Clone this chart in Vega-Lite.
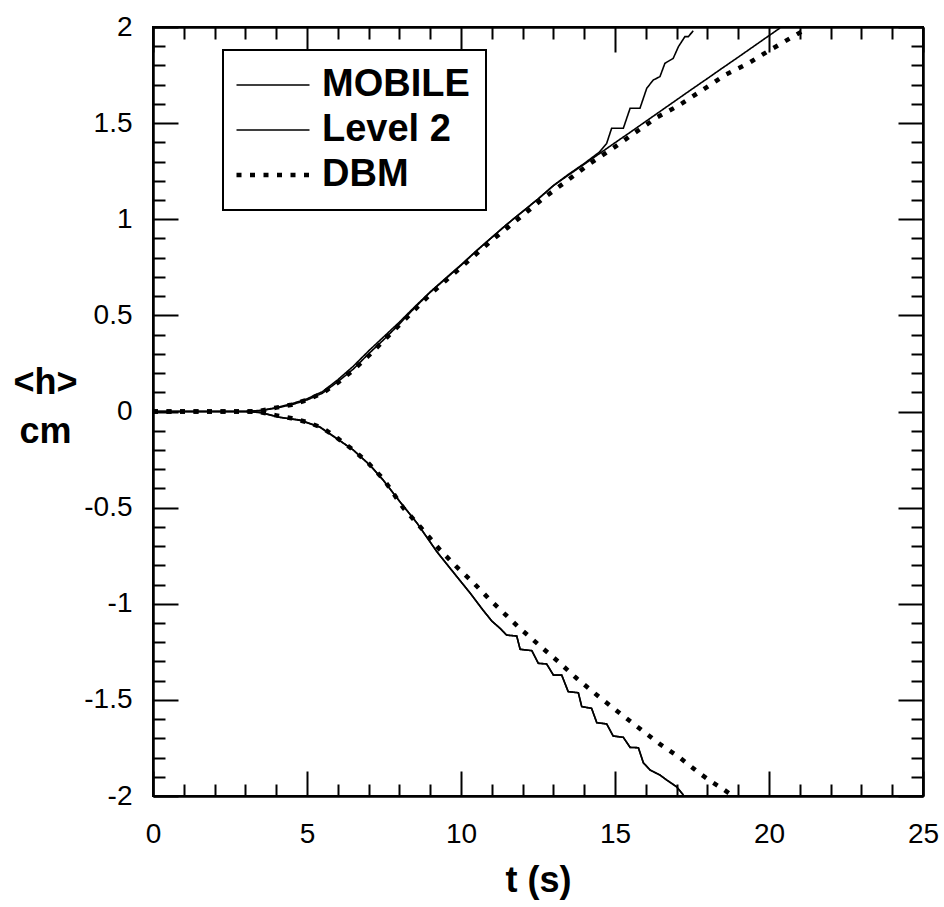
{
  "$schema": "https://vega.github.io/schema/vega-lite/v6.json",
  "autosize": {"type": "none"},
  "padding": {"left": 153, "top": 27, "right": 21, "bottom": 111},
  "width": 770,
  "height": 769,
  "background": "white",
  "config": {
    "view": {"stroke": "black", "strokeWidth": 2},
    "font": "Liberation Sans",
    "axis": {
      "grid": false,
      "domainColor": "black",
      "domainWidth": 2,
      "tickColor": "black",
      "tickWidth": 2,
      "tickSize": -25,
      "labelColor": "black",
      "labelFont": "Liberation Sans",
      "labelFontSize": 28,
      "labelOverlap": false,
      "labelFlush": false,
      "titleColor": "black",
      "titleFont": "Liberation Sans",
      "titleFontWeight": "bold",
      "titleFontSize": 36
    },
    "legend": {
      "strokeColor": "black",
      "strokeWidth": 2,
      "fillColor": "white"
    }
  },
  "data": {
    "values": [
      {"series": "MOBILE", "branch": "up", "t": 0, "h": 0},
      {"series": "MOBILE", "branch": "up", "t": 1, "h": 0},
      {"series": "MOBILE", "branch": "up", "t": 2, "h": 0},
      {"series": "MOBILE", "branch": "up", "t": 3, "h": 0},
      {"series": "MOBILE", "branch": "up", "t": 3.5, "h": 0.004},
      {"series": "MOBILE", "branch": "up", "t": 4, "h": 0.018},
      {"series": "MOBILE", "branch": "up", "t": 4.5, "h": 0.035},
      {"series": "MOBILE", "branch": "up", "t": 5, "h": 0.06},
      {"series": "MOBILE", "branch": "up", "t": 5.5, "h": 0.095},
      {"series": "MOBILE", "branch": "up", "t": 6, "h": 0.155},
      {"series": "MOBILE", "branch": "up", "t": 6.5, "h": 0.22},
      {"series": "MOBILE", "branch": "up", "t": 7, "h": 0.3},
      {"series": "MOBILE", "branch": "up", "t": 7.5, "h": 0.375},
      {"series": "MOBILE", "branch": "up", "t": 8, "h": 0.455},
      {"series": "MOBILE", "branch": "up", "t": 8.5, "h": 0.54},
      {"series": "MOBILE", "branch": "up", "t": 9, "h": 0.62},
      {"series": "MOBILE", "branch": "up", "t": 9.5, "h": 0.69},
      {"series": "MOBILE", "branch": "up", "t": 10, "h": 0.76},
      {"series": "MOBILE", "branch": "up", "t": 10.5, "h": 0.835},
      {"series": "MOBILE", "branch": "up", "t": 11, "h": 0.905},
      {"series": "MOBILE", "branch": "up", "t": 11.5, "h": 0.975},
      {"series": "MOBILE", "branch": "up", "t": 12, "h": 1.04},
      {"series": "MOBILE", "branch": "up", "t": 12.5, "h": 1.105},
      {"series": "MOBILE", "branch": "up", "t": 13, "h": 1.175},
      {"series": "MOBILE", "branch": "up", "t": 13.5, "h": 1.235},
      {"series": "MOBILE", "branch": "up", "t": 14, "h": 1.29},
      {"series": "MOBILE", "branch": "up", "t": 14.5, "h": 1.35},
      {"series": "MOBILE", "branch": "up", "t": 14.73, "h": 1.395},
      {"series": "MOBILE", "branch": "up", "t": 14.89, "h": 1.473},
      {"series": "MOBILE", "branch": "up", "t": 15.27, "h": 1.473},
      {"series": "MOBILE", "branch": "up", "t": 15.49, "h": 1.577},
      {"series": "MOBILE", "branch": "up", "t": 15.81, "h": 1.577},
      {"series": "MOBILE", "branch": "up", "t": 16.03, "h": 1.681},
      {"series": "MOBILE", "branch": "up", "t": 16.24, "h": 1.724},
      {"series": "MOBILE", "branch": "up", "t": 16.46, "h": 1.742},
      {"series": "MOBILE", "branch": "up", "t": 16.62, "h": 1.811},
      {"series": "MOBILE", "branch": "up", "t": 16.89, "h": 1.837},
      {"series": "MOBILE", "branch": "up", "t": 17.06, "h": 1.898},
      {"series": "MOBILE", "branch": "up", "t": 17.27, "h": 1.95},
      {"series": "MOBILE", "branch": "up", "t": 17.38, "h": 1.95},
      {"series": "MOBILE", "branch": "up", "t": 17.54, "h": 1.98},

      {"series": "Level 2", "branch": "up", "t": 0, "h": 0},
      {"series": "Level 2", "branch": "up", "t": 1, "h": 0},
      {"series": "Level 2", "branch": "up", "t": 2, "h": 0},
      {"series": "Level 2", "branch": "up", "t": 3, "h": 0},
      {"series": "Level 2", "branch": "up", "t": 3.5, "h": 0.006},
      {"series": "Level 2", "branch": "up", "t": 4, "h": 0.02},
      {"series": "Level 2", "branch": "up", "t": 4.5, "h": 0.04},
      {"series": "Level 2", "branch": "up", "t": 5, "h": 0.066},
      {"series": "Level 2", "branch": "up", "t": 5.5, "h": 0.103},
      {"series": "Level 2", "branch": "up", "t": 6, "h": 0.165},
      {"series": "Level 2", "branch": "up", "t": 6.5, "h": 0.235},
      {"series": "Level 2", "branch": "up", "t": 7, "h": 0.315},
      {"series": "Level 2", "branch": "up", "t": 7.5, "h": 0.39},
      {"series": "Level 2", "branch": "up", "t": 8, "h": 0.465},
      {"series": "Level 2", "branch": "up", "t": 8.5, "h": 0.545},
      {"series": "Level 2", "branch": "up", "t": 9, "h": 0.622},
      {"series": "Level 2", "branch": "up", "t": 9.5, "h": 0.693},
      {"series": "Level 2", "branch": "up", "t": 10, "h": 0.763},
      {"series": "Level 2", "branch": "up", "t": 10.5, "h": 0.836},
      {"series": "Level 2", "branch": "up", "t": 11, "h": 0.906},
      {"series": "Level 2", "branch": "up", "t": 11.5, "h": 0.975},
      {"series": "Level 2", "branch": "up", "t": 12, "h": 1.04},
      {"series": "Level 2", "branch": "up", "t": 12.5, "h": 1.105},
      {"series": "Level 2", "branch": "up", "t": 13, "h": 1.175},
      {"series": "Level 2", "branch": "up", "t": 13.5, "h": 1.231},
      {"series": "Level 2", "branch": "up", "t": 14, "h": 1.286},
      {"series": "Level 2", "branch": "up", "t": 14.5, "h": 1.342},
      {"series": "Level 2", "branch": "up", "t": 15, "h": 1.398},
      {"series": "Level 2", "branch": "up", "t": 15.5, "h": 1.453},
      {"series": "Level 2", "branch": "up", "t": 16, "h": 1.509},
      {"series": "Level 2", "branch": "up", "t": 16.5, "h": 1.565},
      {"series": "Level 2", "branch": "up", "t": 17, "h": 1.621},
      {"series": "Level 2", "branch": "up", "t": 17.5, "h": 1.677},
      {"series": "Level 2", "branch": "up", "t": 18, "h": 1.732},
      {"series": "Level 2", "branch": "up", "t": 18.5, "h": 1.788},
      {"series": "Level 2", "branch": "up", "t": 19, "h": 1.843},
      {"series": "Level 2", "branch": "up", "t": 19.5, "h": 1.899},
      {"series": "Level 2", "branch": "up", "t": 20, "h": 1.955},
      {"series": "Level 2", "branch": "up", "t": 20.36, "h": 1.995},

      {"series": "MOBILE", "branch": "low", "t": 0, "h": 0},
      {"series": "MOBILE", "branch": "low", "t": 1, "h": 0},
      {"series": "MOBILE", "branch": "low", "t": 2, "h": 0},
      {"series": "MOBILE", "branch": "low", "t": 3, "h": 0},
      {"series": "MOBILE", "branch": "low", "t": 3.5, "h": -0.005},
      {"series": "MOBILE", "branch": "low", "t": 4.1, "h": -0.03},
      {"series": "MOBILE", "branch": "low", "t": 4.77, "h": -0.044},
      {"series": "MOBILE", "branch": "low", "t": 5.42, "h": -0.08},
      {"series": "MOBILE", "branch": "low", "t": 5.97, "h": -0.14},
      {"series": "MOBILE", "branch": "low", "t": 6.5, "h": -0.2},
      {"series": "MOBILE", "branch": "low", "t": 7.05, "h": -0.28},
      {"series": "MOBILE", "branch": "low", "t": 7.47, "h": -0.356},
      {"series": "MOBILE", "branch": "low", "t": 8.02, "h": -0.47},
      {"series": "MOBILE", "branch": "low", "t": 8.57, "h": -0.58},
      {"series": "MOBILE", "branch": "low", "t": 9.22, "h": -0.73},
      {"series": "MOBILE", "branch": "low", "t": 9.87, "h": -0.86},
      {"series": "MOBILE", "branch": "low", "t": 10.3, "h": -0.945},
      {"series": "MOBILE", "branch": "low", "t": 10.7, "h": -1.03},
      {"series": "MOBILE", "branch": "low", "t": 11.0, "h": -1.09},
      {"series": "MOBILE", "branch": "low", "t": 11.27, "h": -1.128},
      {"series": "MOBILE", "branch": "low", "t": 11.48, "h": -1.163},
      {"series": "MOBILE", "branch": "low", "t": 11.81, "h": -1.168},
      {"series": "MOBILE", "branch": "low", "t": 11.92, "h": -1.237},
      {"series": "MOBILE", "branch": "low", "t": 12.3, "h": -1.244},
      {"series": "MOBILE", "branch": "low", "t": 12.51, "h": -1.31},
      {"series": "MOBILE", "branch": "low", "t": 12.78, "h": -1.313},
      {"series": "MOBILE", "branch": "low", "t": 13.0, "h": -1.371},
      {"series": "MOBILE", "branch": "low", "t": 13.27, "h": -1.371},
      {"series": "MOBILE", "branch": "low", "t": 13.48, "h": -1.457},
      {"series": "MOBILE", "branch": "low", "t": 13.81, "h": -1.463},
      {"series": "MOBILE", "branch": "low", "t": 13.92, "h": -1.535},
      {"series": "MOBILE", "branch": "low", "t": 14.24, "h": -1.544},
      {"series": "MOBILE", "branch": "low", "t": 14.41, "h": -1.619},
      {"series": "MOBILE", "branch": "low", "t": 14.73, "h": -1.625},
      {"series": "MOBILE", "branch": "low", "t": 14.94, "h": -1.688},
      {"series": "MOBILE", "branch": "low", "t": 15.27, "h": -1.695},
      {"series": "MOBILE", "branch": "low", "t": 15.49, "h": -1.747},
      {"series": "MOBILE", "branch": "low", "t": 15.76, "h": -1.749},
      {"series": "MOBILE", "branch": "low", "t": 15.92, "h": -1.827},
      {"series": "MOBILE", "branch": "low", "t": 16.14, "h": -1.865},
      {"series": "MOBILE", "branch": "low", "t": 16.46, "h": -1.891},
      {"series": "MOBILE", "branch": "low", "t": 16.68, "h": -1.917},
      {"series": "MOBILE", "branch": "low", "t": 17.0, "h": -1.952},
      {"series": "MOBILE", "branch": "low", "t": 17.22, "h": -1.995},

      {"series": "Level 2", "branch": "low", "t": 0, "h": 0},
      {"series": "Level 2", "branch": "low", "t": 1, "h": 0},
      {"series": "Level 2", "branch": "low", "t": 2, "h": 0},
      {"series": "Level 2", "branch": "low", "t": 3, "h": 0},
      {"series": "Level 2", "branch": "low", "t": 3.5, "h": -0.006},
      {"series": "Level 2", "branch": "low", "t": 4.1, "h": -0.03},
      {"series": "Level 2", "branch": "low", "t": 4.77, "h": -0.046},
      {"series": "Level 2", "branch": "low", "t": 5.42, "h": -0.082},
      {"series": "Level 2", "branch": "low", "t": 5.97, "h": -0.142},
      {"series": "Level 2", "branch": "low", "t": 6.5, "h": -0.2},
      {"series": "Level 2", "branch": "low", "t": 7.05, "h": -0.28},
      {"series": "Level 2", "branch": "low", "t": 7.47, "h": -0.356},
      {"series": "Level 2", "branch": "low", "t": 8.02, "h": -0.47},
      {"series": "Level 2", "branch": "low", "t": 8.57, "h": -0.58},
      {"series": "Level 2", "branch": "low", "t": 9.22, "h": -0.73},
      {"series": "Level 2", "branch": "low", "t": 9.87, "h": -0.86},
      {"series": "Level 2", "branch": "low", "t": 10.3, "h": -0.945},
      {"series": "Level 2", "branch": "low", "t": 10.7, "h": -1.03},
      {"series": "Level 2", "branch": "low", "t": 11.0, "h": -1.09},
      {"series": "Level 2", "branch": "low", "t": 11.27, "h": -1.128},
      {"series": "Level 2", "branch": "low", "t": 11.48, "h": -1.163},
      {"series": "Level 2", "branch": "low", "t": 11.81, "h": -1.168},
      {"series": "Level 2", "branch": "low", "t": 11.92, "h": -1.237},
      {"series": "Level 2", "branch": "low", "t": 12.3, "h": -1.244},
      {"series": "Level 2", "branch": "low", "t": 12.51, "h": -1.31},
      {"series": "Level 2", "branch": "low", "t": 12.78, "h": -1.313},
      {"series": "Level 2", "branch": "low", "t": 13.0, "h": -1.371},
      {"series": "Level 2", "branch": "low", "t": 13.27, "h": -1.371},
      {"series": "Level 2", "branch": "low", "t": 13.48, "h": -1.457},
      {"series": "Level 2", "branch": "low", "t": 13.81, "h": -1.463},
      {"series": "Level 2", "branch": "low", "t": 13.92, "h": -1.535},
      {"series": "Level 2", "branch": "low", "t": 14.24, "h": -1.544},
      {"series": "Level 2", "branch": "low", "t": 14.41, "h": -1.619},
      {"series": "Level 2", "branch": "low", "t": 14.73, "h": -1.625},
      {"series": "Level 2", "branch": "low", "t": 14.94, "h": -1.688},
      {"series": "Level 2", "branch": "low", "t": 15.27, "h": -1.695},
      {"series": "Level 2", "branch": "low", "t": 15.49, "h": -1.747},
      {"series": "Level 2", "branch": "low", "t": 15.76, "h": -1.749},
      {"series": "Level 2", "branch": "low", "t": 15.92, "h": -1.827},
      {"series": "Level 2", "branch": "low", "t": 16.14, "h": -1.865},
      {"series": "Level 2", "branch": "low", "t": 16.46, "h": -1.891},
      {"series": "Level 2", "branch": "low", "t": 16.68, "h": -1.917},
      {"series": "Level 2", "branch": "low", "t": 17.0, "h": -1.952},
      {"series": "Level 2", "branch": "low", "t": 17.22, "h": -1.995},

      {"series": "DBM", "branch": "up", "t": 0, "h": 0},
      {"series": "DBM", "branch": "up", "t": 1, "h": 0},
      {"series": "DBM", "branch": "up", "t": 2, "h": 0},
      {"series": "DBM", "branch": "up", "t": 3, "h": 0},
      {"series": "DBM", "branch": "up", "t": 3.5, "h": 0.004},
      {"series": "DBM", "branch": "up", "t": 4, "h": 0.02},
      {"series": "DBM", "branch": "up", "t": 4.5, "h": 0.035},
      {"series": "DBM", "branch": "up", "t": 5, "h": 0.06},
      {"series": "DBM", "branch": "up", "t": 5.5, "h": 0.095},
      {"series": "DBM", "branch": "up", "t": 6, "h": 0.15},
      {"series": "DBM", "branch": "up", "t": 6.5, "h": 0.215},
      {"series": "DBM", "branch": "up", "t": 7, "h": 0.29},
      {"series": "DBM", "branch": "up", "t": 7.5, "h": 0.37},
      {"series": "DBM", "branch": "up", "t": 8, "h": 0.45},
      {"series": "DBM", "branch": "up", "t": 8.5, "h": 0.53},
      {"series": "DBM", "branch": "up", "t": 9, "h": 0.61},
      {"series": "DBM", "branch": "up", "t": 9.5, "h": 0.68},
      {"series": "DBM", "branch": "up", "t": 10, "h": 0.75},
      {"series": "DBM", "branch": "up", "t": 10.5, "h": 0.82},
      {"series": "DBM", "branch": "up", "t": 11, "h": 0.89},
      {"series": "DBM", "branch": "up", "t": 11.5, "h": 0.955},
      {"series": "DBM", "branch": "up", "t": 12, "h": 1.02},
      {"series": "DBM", "branch": "up", "t": 12.73, "h": 1.116},
      {"series": "DBM", "branch": "up", "t": 13.44, "h": 1.2},
      {"series": "DBM", "branch": "up", "t": 14.19, "h": 1.29},
      {"series": "DBM", "branch": "up", "t": 14.94, "h": 1.37},
      {"series": "DBM", "branch": "up", "t": 15.65, "h": 1.45},
      {"series": "DBM", "branch": "up", "t": 16.36, "h": 1.53},
      {"series": "DBM", "branch": "up", "t": 17.05, "h": 1.59},
      {"series": "DBM", "branch": "up", "t": 17.82, "h": 1.67},
      {"series": "DBM", "branch": "up", "t": 18.57, "h": 1.75},
      {"series": "DBM", "branch": "up", "t": 19.32, "h": 1.81},
      {"series": "DBM", "branch": "up", "t": 20.03, "h": 1.88},
      {"series": "DBM", "branch": "up", "t": 20.78, "h": 1.95},
      {"series": "DBM", "branch": "up", "t": 21.1, "h": 1.98},

      {"series": "DBM", "branch": "low", "t": 0, "h": 0},
      {"series": "DBM", "branch": "low", "t": 1, "h": 0},
      {"series": "DBM", "branch": "low", "t": 2, "h": 0},
      {"series": "DBM", "branch": "low", "t": 3, "h": 0},
      {"series": "DBM", "branch": "low", "t": 3.5, "h": -0.004},
      {"series": "DBM", "branch": "low", "t": 4, "h": -0.02},
      {"series": "DBM", "branch": "low", "t": 4.5, "h": -0.035},
      {"series": "DBM", "branch": "low", "t": 5, "h": -0.055},
      {"series": "DBM", "branch": "low", "t": 5.5, "h": -0.085},
      {"series": "DBM", "branch": "low", "t": 6, "h": -0.14},
      {"series": "DBM", "branch": "low", "t": 6.5, "h": -0.2},
      {"series": "DBM", "branch": "low", "t": 7, "h": -0.27},
      {"series": "DBM", "branch": "low", "t": 7.5, "h": -0.355},
      {"series": "DBM", "branch": "low", "t": 8.12, "h": -0.5},
      {"series": "DBM", "branch": "low", "t": 8.73, "h": -0.61},
      {"series": "DBM", "branch": "low", "t": 9.32, "h": -0.72},
      {"series": "DBM", "branch": "low", "t": 9.87, "h": -0.81},
      {"series": "DBM", "branch": "low", "t": 10.4, "h": -0.89},
      {"series": "DBM", "branch": "low", "t": 10.94, "h": -0.98},
      {"series": "DBM", "branch": "low", "t": 11.27, "h": -1.03},
      {"series": "DBM", "branch": "low", "t": 11.9, "h": -1.126},
      {"series": "DBM", "branch": "low", "t": 12.5, "h": -1.21},
      {"series": "DBM", "branch": "low", "t": 13.15, "h": -1.3},
      {"series": "DBM", "branch": "low", "t": 13.77, "h": -1.39},
      {"series": "DBM", "branch": "low", "t": 14.45, "h": -1.48},
      {"series": "DBM", "branch": "low", "t": 15.16, "h": -1.57},
      {"series": "DBM", "branch": "low", "t": 15.81, "h": -1.65},
      {"series": "DBM", "branch": "low", "t": 16.46, "h": -1.73},
      {"series": "DBM", "branch": "low", "t": 17.1, "h": -1.8},
      {"series": "DBM", "branch": "low", "t": 17.73, "h": -1.88},
      {"series": "DBM", "branch": "low", "t": 18.08, "h": -1.92},
      {"series": "DBM", "branch": "low", "t": 18.47, "h": -1.96},
      {"series": "DBM", "branch": "low", "t": 18.83, "h": -2.0}
    ]
  },
  "resolve": {"axis": {"x": "independent", "y": "independent"}},
  "layer": [
    {
      "mark": {"type": "line", "clip": true, "color": "black"},
      "encoding": {
        "x": {
          "field": "t", "type": "quantitative",
          "scale": {"domain": [0, 25], "nice": false, "zero": false},
          "axis": {
            "orient": "bottom",
            "values": [0, 5, 10, 15, 20, 25],
            "tickSize": -25,
            "labelPadding": 49,
            "title": "t (s)",
            "titleY": 95,
            "titleBaseline": "alphabetic"
          }
        },
        "y": {
          "field": "h", "type": "quantitative",
          "scale": {"domain": [-2, 2], "nice": false, "zero": false},
          "axis": {
            "orient": "left",
            "values": [-2, -1.5, -1, -0.5, 0, 0.5, 1, 1.5, 2],
            "tickSize": -25,
            "labelExpr": "toString(datum.value)",
            "labelPadding": 46,
            "title": ["<h>", "cm"],
            "titleAngle": 0,
            "titleX": -108,
            "titleY": 366,
            "titleAlign": "center",
            "titleBaseline": "alphabetic",
            "titleLineHeight": 49
          }
        },
        "detail": {"field": "branch", "type": "nominal"},
        "strokeDash": {
          "field": "series", "type": "nominal",
          "scale": {"domain": ["MOBILE", "Level 2", "DBM"], "range": [[1, 0], [1, 0], [5, 8.5]]},
          "legend": {
            "title": null,
            "orient": "none",
            "legendX": 70,
            "legendY": 23,
            "symbolType": "stroke",
            "symbolSize": 5329,
            "symbolStrokeColor": "black",
            "symbolOffset": 15,
            "labelFont": "Liberation Sans",
            "labelFontSize": 38,
            "labelFontWeight": "bold",
            "labelColor": "black",
            "labelOffset": 30,
            "labelLimit": 0,
            "padding": 16,
            "rowPadding": 7,
            "encode": {
              "symbols": {"update": {"strokeWidth": {"signal": "datum.value === 'DBM' ? 4.5 : 1.6"}}}
            }
          }
        },
        "strokeWidth": {"condition": {"test": "datum.series === 'DBM'", "value": 4.5}, "value": 1.6}
      }
    },
    {
      "mark": {"type": "line", "opacity": 0},
      "encoding": {
        "x": {
          "field": "t", "type": "quantitative",
          "axis": {"orient": "top", "values": [0, 5, 10, 15, 20, 25], "tickSize": -25, "labels": false, "title": null}
        },
        "y": {
          "field": "h", "type": "quantitative",
          "axis": {"orient": "right", "values": [-2, -1.5, -1, -0.5, 0, 0.5, 1, 1.5, 2], "tickSize": -25, "labels": false, "title": null}
        },
        "detail": {"field": "series", "type": "nominal"}
      }
    },
    {
      "mark": {"type": "line", "opacity": 0},
      "encoding": {
        "x": {
          "field": "t", "type": "quantitative",
          "axis": {"orient": "bottom", "values": [1,2,3,4,6,7,8,9,11,12,13,14,16,17,18,19,21,22,23,24], "tickSize": -12, "labels": false, "title": null}
        },
        "y": {
          "field": "h", "type": "quantitative",
          "axis": {"orient": "left", "values": [-1.9,-1.8,-1.7,-1.6,-1.4,-1.3,-1.2,-1.1,-0.9,-0.8,-0.7,-0.6,-0.4,-0.3,-0.2,-0.1,0.1,0.2,0.3,0.4,0.6,0.7,0.8,0.9,1.1,1.2,1.3,1.4,1.6,1.7,1.8,1.9], "tickSize": -12, "labels": false, "title": null}
        },
        "detail": {"field": "series", "type": "nominal"}
      }
    },
    {
      "mark": {"type": "line", "opacity": 0},
      "encoding": {
        "x": {
          "field": "t", "type": "quantitative",
          "axis": {"orient": "top", "values": [1,2,3,4,6,7,8,9,11,12,13,14,16,17,18,19,21,22,23,24], "tickSize": -12, "labels": false, "title": null}
        },
        "y": {
          "field": "h", "type": "quantitative",
          "axis": {"orient": "right", "values": [-1.9,-1.8,-1.7,-1.6,-1.4,-1.3,-1.2,-1.1,-0.9,-0.8,-0.7,-0.6,-0.4,-0.3,-0.2,-0.1,0.1,0.2,0.3,0.4,0.6,0.7,0.8,0.9,1.1,1.2,1.3,1.4,1.6,1.7,1.8,1.9], "tickSize": -12, "labels": false, "title": null}
        },
        "detail": {"field": "series", "type": "nominal"}
      }
    }
  ]
}
